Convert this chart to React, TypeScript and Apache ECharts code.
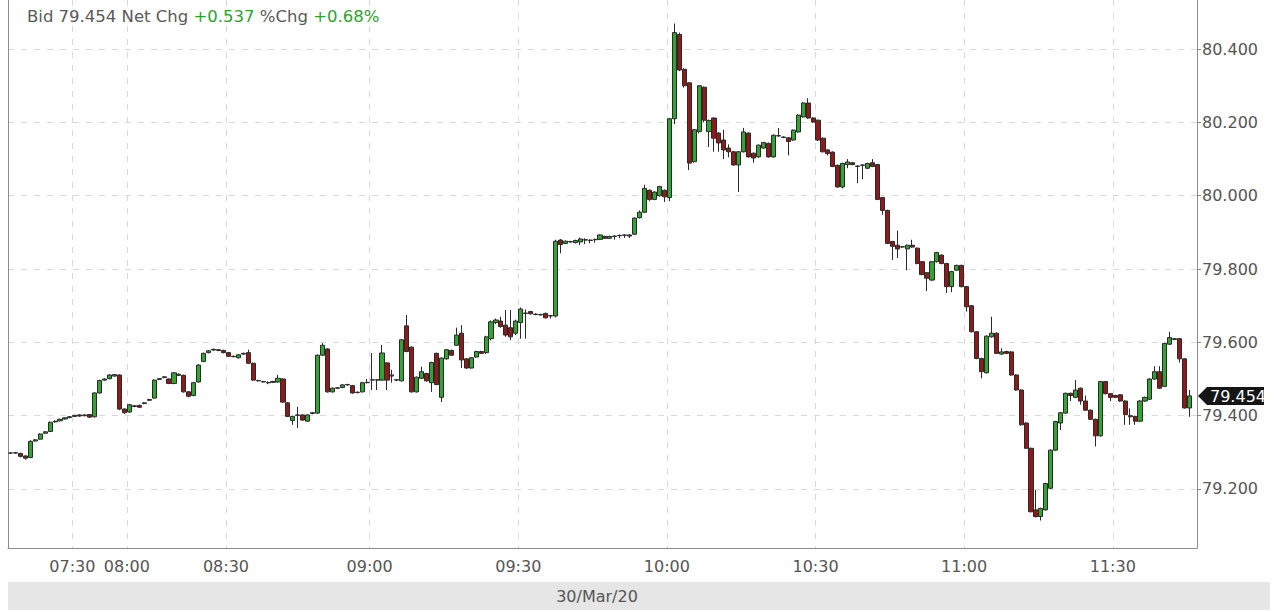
import React, { useEffect, useRef } from "react";
import * as echarts from "echarts";

// ---------- DATA ----------
// candle rows: [open, close, low, high]
const sessionEarly: number[][] = [
  [79.298, 79.298, 79.296, 79.300], [79.298, 79.299, 79.296, 79.301], [79.297, 79.289, 79.286, 79.299],
  [79.290, 79.284, 79.280, 79.292], [79.286, 79.330, 79.284, 79.333], [79.331, 79.334, 79.329, 79.336],
  [79.336, 79.350, 79.334, 79.352], [79.352, 79.356, 79.350, 79.358], [79.357, 79.382, 79.355, 79.384],
  [79.383, 79.385, 79.381, 79.387], [79.386, 79.390, 79.384, 79.392], [79.391, 79.394, 79.389, 79.396],
  [79.395, 79.397, 79.393, 79.399], [79.398, 79.401, 79.396, 79.402], [79.402, 79.399, 79.397, 79.404],
  [79.400, 79.402, 79.398, 79.404], [79.403, 79.396, 79.394, 79.404], [79.397, 79.462, 79.395, 79.464],
  [79.462, 79.496, 79.460, 79.498], [79.497, 79.500, 79.495, 79.502], [79.501, 79.511, 79.499, 79.513],
  [79.508, 79.512, 79.506, 79.514], [79.511, 79.418, 79.415, 79.513], [79.418, 79.408, 79.405, 79.420],
  [79.410, 79.430, 79.408, 79.432], [79.427, 79.425, 79.423, 79.429], [79.428, 79.423, 79.421, 79.430],
  [79.433, 79.435, 79.431, 79.437], [79.442, 79.444, 79.440, 79.446], [79.448, 79.497, 79.446, 79.499],
  [79.499, 79.501, 79.497, 79.503], [79.504, 79.506, 79.502, 79.508], [79.500, 79.488, 79.486, 79.502],
  [79.488, 79.517, 79.486, 79.519], [79.513, 79.510, 79.508, 79.515], [79.510, 79.465, 79.463, 79.512],
  [79.465, 79.453, 79.450, 79.467], [79.455, 79.490, 79.453, 79.492], [79.492, 79.538, 79.490, 79.540],
  [79.548, 79.570, 79.546, 79.572], [79.572, 79.577, 79.570, 79.579], [79.579, 79.581, 79.577, 79.583],
  [79.580, 79.578, 79.576, 79.582], [79.578, 79.572, 79.570, 79.580], [79.572, 79.562, 79.560, 79.574],
  [79.562, 79.561, 79.559, 79.564], [79.558, 79.566, 79.556, 79.568], [79.568, 79.570, 79.566, 79.572],
  [79.572, 79.543, 79.541, 79.580], [79.543, 79.497, 79.495, 79.545], [79.496, 79.495, 79.493, 79.498],
  [79.493, 79.492, 79.490, 79.495], [79.490, 79.490, 79.486, 79.494], [79.491, 79.493, 79.489, 79.495],
  [79.492, 79.502, 79.490, 79.511], [79.500, 79.437, 79.435, 79.502], [79.435, 79.398, 79.396, 79.437],
  [79.387, 79.398, 79.375, 79.400], [79.401, 79.402, 79.366, 79.424], [79.402, 79.388, 79.386, 79.404],
  [79.385, 79.402, 79.383, 79.404], [79.406, 79.408, 79.404, 79.410], [79.407, 79.565, 79.405, 79.567],
  [79.565, 79.592, 79.563, 79.598], [79.582, 79.465, 79.463, 79.584], [79.465, 79.475, 79.463, 79.477],
  [79.475, 79.476, 79.473, 79.478], [79.477, 79.484, 79.475, 79.486], [79.484, 79.485, 79.482, 79.487],
  [79.482, 79.462, 79.460, 79.484], [79.463, 79.464, 79.461, 79.466], [79.465, 79.490, 79.463, 79.492],
  [79.490, 79.491, 79.488, 79.500],
];

const session0900: number[][] = [
  [79.497, 79.498, 79.470, 79.571], [79.497, 79.498, 79.470, 79.500], [79.497, 79.571, 79.495, 79.593],
  [79.544, 79.497, 79.470, 79.546], [79.508, 79.511, 79.490, 79.525], [79.498, 79.497, 79.494, 79.500],
  [79.495, 79.607, 79.493, 79.609], [79.645, 79.575, 79.573, 79.675], [79.587, 79.465, 79.463, 79.589],
  [79.465, 79.505, 79.463, 79.507], [79.502, 79.520, 79.500, 79.534], [79.515, 79.495, 79.493, 79.517],
  [79.490, 79.545, 79.465, 79.547], [79.570, 79.485, 79.483, 79.572], [79.450, 79.557, 79.437, 79.559],
  [79.555, 79.580, 79.553, 79.582], [79.578, 79.565, 79.563, 79.580], [79.592, 79.620, 79.590, 79.640],
  [79.625, 79.552, 79.530, 79.647], [79.555, 79.530, 79.528, 79.557], [79.530, 79.558, 79.528, 79.560],
  [79.560, 79.575, 79.558, 79.577], [79.575, 79.570, 79.568, 79.577], [79.572, 79.615, 79.568, 79.618],
  [79.610, 79.656, 79.605, 79.660], [79.654, 79.661, 79.650, 79.665], [79.658, 79.643, 79.640, 79.670],
  [79.647, 79.620, 79.615, 79.688], [79.640, 79.615, 79.606, 79.688], [79.625, 79.658, 79.620, 79.662],
  [79.654, 79.691, 79.610, 79.695], [79.680, 79.679, 79.610, 79.690], [79.684, 79.678, 79.676, 79.686],
  [79.677, 79.676, 79.674, 79.679], [79.676, 79.675, 79.673, 79.678], [79.679, 79.667, 79.665, 79.681],
  [79.672, 79.673, 79.665, 79.675], [79.672, 79.876, 79.668, 79.880], [79.879, 79.867, 79.843, 79.882],
  [79.870, 79.876, 79.868, 79.878], [79.875, 79.874, 79.872, 79.877], [79.872, 79.878, 79.870, 79.880],
  [79.874, 79.882, 79.865, 79.886], [79.880, 79.879, 79.868, 79.884], [79.879, 79.878, 79.870, 79.881],
  [79.880, 79.881, 79.872, 79.883], [79.881, 79.893, 79.879, 79.895], [79.889, 79.884, 79.882, 79.891],
  [79.884, 79.889, 79.882, 79.891], [79.889, 79.890, 79.880, 79.892], [79.891, 79.892, 79.884, 79.894],
  [79.892, 79.893, 79.885, 79.895], [79.893, 79.890, 79.885, 79.895], [79.895, 79.939, 79.893, 79.941],
  [79.940, 79.955, 79.938, 79.960], [79.955, 80.020, 79.953, 80.030], [80.015, 79.990, 79.985, 80.017],
  [79.990, 80.010, 79.988, 80.012], [80.000, 80.025, 79.998, 80.027], [80.015, 79.997, 79.983, 80.017],
];

const session1000: number[][] = [
  [79.995, 80.210, 79.985, 80.212], [80.210, 80.445, 80.195, 80.470], [80.440, 80.343, 80.340, 80.445],
  [80.345, 80.300, 80.295, 80.348], [80.308, 80.089, 80.070, 80.310], [80.093, 80.180, 80.090, 80.182],
  [80.175, 80.300, 80.170, 80.302], [80.296, 80.206, 80.200, 80.298], [80.175, 80.205, 80.133, 80.208],
  [80.212, 80.157, 80.120, 80.214], [80.171, 80.144, 80.120, 80.173], [80.152, 80.125, 80.100, 80.180],
  [80.130, 80.120, 80.105, 80.140], [80.120, 80.084, 80.082, 80.122], [80.084, 80.120, 80.010, 80.122],
  [80.120, 80.174, 80.118, 80.185], [80.171, 80.106, 80.104, 80.173], [80.116, 80.103, 80.090, 80.118],
  [80.106, 80.138, 80.104, 80.140], [80.130, 80.145, 80.128, 80.147], [80.143, 80.106, 80.104, 80.145],
  [80.106, 80.165, 80.104, 80.167], [80.163, 80.164, 80.161, 80.185], [80.159, 80.160, 80.157, 80.162],
  [80.158, 80.148, 80.110, 80.160], [80.152, 80.179, 80.150, 80.181], [80.174, 80.220, 80.172, 80.222],
  [80.215, 80.253, 80.213, 80.255], [80.253, 80.212, 80.210, 80.266], [80.212, 80.201, 80.199, 80.214],
  [80.206, 80.152, 80.150, 80.208], [80.157, 80.120, 80.118, 80.159], [80.125, 80.115, 80.110, 80.127],
  [80.119, 80.080, 80.078, 80.121], [80.083, 80.024, 80.022, 80.085], [80.024, 80.088, 80.020, 80.090],
  [80.085, 80.092, 80.075, 80.100], [80.090, 80.085, 80.083, 80.092], [80.081, 80.080, 80.034, 80.083],
  [80.083, 80.084, 80.045, 80.086], [80.075, 80.088, 80.073, 80.090], [80.090, 80.080, 80.078, 80.100],
  [80.085, 79.990, 79.988, 80.087], [79.995, 79.960, 79.948, 79.997], [79.960, 79.870, 79.868, 79.962],
  [79.875, 79.862, 79.825, 79.877], [79.865, 79.855, 79.830, 79.905], [79.860, 79.861, 79.858, 79.863],
  [79.855, 79.865, 79.797, 79.867], [79.865, 79.860, 79.858, 79.880], [79.857, 79.815, 79.813, 79.859],
  [79.820, 79.785, 79.783, 79.822], [79.790, 79.775, 79.740, 79.792], [79.770, 79.820, 79.768, 79.822],
  [79.820, 79.845, 79.818, 79.847], [79.838, 79.815, 79.813, 79.840], [79.815, 79.752, 79.735, 79.817],
  [79.752, 79.793, 79.737, 79.795], [79.797, 79.810, 79.795, 79.812], [79.810, 79.752, 79.750, 79.812],
];

const session1100: number[][] = [
  [79.752, 79.697, 79.684, 79.754], [79.700, 79.629, 79.627, 79.702], [79.629, 79.556, 79.554, 79.631],
  [79.556, 79.520, 79.502, 79.558], [79.517, 79.617, 79.515, 79.619], [79.615, 79.625, 79.613, 79.670],
  [79.625, 79.570, 79.568, 79.627], [79.568, 79.574, 79.566, 79.584], [79.575, 79.570, 79.568, 79.577],
  [79.574, 79.511, 79.509, 79.576], [79.511, 79.470, 79.468, 79.513], [79.470, 79.375, 79.373, 79.472],
  [79.380, 79.311, 79.309, 79.382], [79.311, 79.138, 79.136, 79.313], [79.143, 79.125, 79.122, 79.197],
  [79.125, 79.147, 79.114, 79.149], [79.143, 79.215, 79.141, 79.217], [79.202, 79.306, 79.200, 79.308],
  [79.306, 79.384, 79.304, 79.386], [79.380, 79.408, 79.361, 79.410], [79.407, 79.461, 79.405, 79.463],
  [79.461, 79.455, 79.440, 79.463], [79.450, 79.470, 79.448, 79.497], [79.475, 79.440, 79.430, 79.477],
  [79.440, 79.415, 79.413, 79.455], [79.415, 79.390, 79.388, 79.417], [79.390, 79.345, 79.316, 79.392],
  [79.345, 79.493, 79.343, 79.495], [79.493, 79.460, 79.458, 79.495], [79.460, 79.450, 79.440, 79.462],
  [79.455, 79.450, 79.448, 79.457], [79.457, 79.440, 79.438, 79.459], [79.440, 79.403, 79.375, 79.442],
  [79.400, 79.397, 79.375, 79.420], [79.398, 79.385, 79.375, 79.400], [79.385, 79.440, 79.383, 79.442],
  [79.440, 79.450, 79.438, 79.452], [79.445, 79.500, 79.443, 79.502], [79.500, 79.520, 79.498, 79.535],
  [79.520, 79.475, 79.473, 79.535], [79.480, 79.597, 79.478, 79.599], [79.595, 79.613, 79.593, 79.629],
  [79.610, 79.608, 79.606, 79.612], [79.610, 79.555, 79.545, 79.612], [79.555, 79.421, 79.419, 79.557],
  [79.421, 79.454, 79.397, 79.470],
];

// minute stamps of the thin early-morning candles (before 09:00)
const earlyTimes: string[] = [
  "07:05", "07:07", "07:09", "07:11", "07:13", "07:15", "07:17", "07:19", "07:21", "07:23", "07:25", "07:27", "07:29",
  "07:30", "07:33", "07:36", "07:38", "07:41", "07:44", "07:47", "07:49", "07:52", "07:55", "07:58",
  "08:00", "08:01", "08:03", "08:04", "08:06", "08:07", "08:09", "08:10", "08:12", "08:13",
  "08:15", "08:16", "08:18", "08:19", "08:21", "08:22", "08:24", "08:25", "08:27", "08:28",
  "08:30", "08:31", "08:32", "08:33", "08:34", "08:35", "08:36", "08:37", "08:38", "08:39",
  "08:40", "08:41", "08:42", "08:43", "08:44", "08:46", "08:47", "08:48", "08:49", "08:50",
  "08:51", "08:52", "08:53", "08:54", "08:55", "08:56", "08:57", "08:58", "08:59",
];

const tickLabels: string[] = ["07:30", "08:00", "08:30", "09:00", "09:30", "10:00", "10:30", "11:00", "11:30"];
const yTicks: number[] = [79.2, 79.4, 79.6, 79.8, 80.0, 80.2, 80.4];
const dateLabel = "30/Mar/20";
const bidText = "79.454";
const netChg = "+0.537";
const pctChg = "+0.68%";

// ---------- helpers ----------
const pad2 = (n: number) => String(n).padStart(2, "0");
function minuteRun(h: number, m: number, count: number): string[] {
  const out: string[] = [];
  for (let k = 0; k < count; k++) {
    const t = h * 60 + m + k;
    out.push(`${pad2(Math.floor(t / 60))}:${pad2(t % 60)}`);
  }
  return out;
}

// candle boundaries (start minute of each slot, plus the closing boundary)
const boundaryTimes = [...earlyTimes, ...minuteRun(9, 0, 168)];
const candleTimes = boundaryTimes.slice(0, boundaryTimes.length - 1);
const ohlc = [...sessionEarly, ...session0900, ...session1000, ...session1100];

// layout
const W = 1280;
const H = 612;
const GRID_LEFT = 8;
const GRID_RIGHT_X = 1197;
const GRID_TOP = 0;
const GRID_BOTTOM_Y = 548;
const Y_MIN = 79.039;
const Y_MAX = 80.534;
const FONT = '"DejaVu Sans", Verdana, sans-serif';
const LABEL_COLOR = "#555";
const GRID_COLOR = "#d9d9d9";
const AXIS_COLOR = "#8c8c8c";

export default function App() {
  const ref = useRef<HTMLDivElement | null>(null);

  useEffect(() => {
    if (!ref.current) return;
    const chart = echarts.init(ref.current, undefined, { renderer: "svg" });
    const showTick = (_i: number, v: string) => tickLabels.includes(v);

    chart.setOption({
      animation: false,
      backgroundColor: "#ffffff",
      title: {
        left: 22,
        top: 3,
        text: `{a|Bid ${bidText} Net Chg }{g|${netChg}}{a| %Chg }{g|${pctChg}}`,
        textStyle: {
          fontWeight: "normal",
          rich: {
            a: { color: "#5a5a5a", fontSize: 16.5, fontFamily: FONT, fontWeight: "normal" },
            g: { color: "#2f9f2f", fontSize: 16.5, fontFamily: FONT, fontWeight: "normal" },
          },
        },
      },
      grid: {
        left: GRID_LEFT,
        right: W - GRID_RIGHT_X,
        top: GRID_TOP,
        bottom: H - GRID_BOTTOM_Y,
        containLabel: false,
      },
      xAxis: [
        {
          type: "category",
          data: candleTimes,
          boundaryGap: true,
          show: false,
        },
        {
          type: "category",
          data: boundaryTimes,
          boundaryGap: false,
          position: "bottom",
          axisLine: { show: true, lineStyle: { color: AXIS_COLOR } },
          axisTick: { show: false },
          axisLabel: {
            interval: showTick,
            color: LABEL_COLOR,
            fontSize: 16,
            fontFamily: FONT,
            margin: 10,
          },
          splitLine: {
            show: true,
            interval: showTick,
            lineStyle: { color: GRID_COLOR, type: [6, 7], width: 1 },
          },
        },
      ],
      yAxis: [
        {
          type: "value",
          position: "right",
          min: Y_MIN,
          max: Y_MAX,
          axisLine: { show: true, lineStyle: { color: AXIS_COLOR } },
          axisTick: { show: true, length: 4, customValues: yTicks, lineStyle: { color: AXIS_COLOR } },
          axisLabel: {
            customValues: yTicks,
            formatter: (v: number) => v.toFixed(3),
            color: LABEL_COLOR,
            fontSize: 16,
            fontFamily: FONT,
            margin: 5,
          },
          splitLine: { show: true, lineStyle: { color: GRID_COLOR, type: [6, 7], width: 1 } },
        },
        {
          type: "value",
          position: "left",
          min: Y_MIN,
          max: Y_MAX,
          axisLine: { show: true, lineStyle: { color: AXIS_COLOR } },
          axisTick: { show: false },
          axisLabel: { show: false },
          splitLine: { show: false },
        },
      ],
      series: [
        {
          type: "candlestick",
          xAxisIndex: 0,
          yAxisIndex: 0,
          data: ohlc,
          barWidth: 4.6,
          itemStyle: {
            color: "#33a333",
            color0: "#8e1b1b",
            borderColor: "#2a2a2a",
            borderColor0: "#2a2a2a",
            borderColorDoji: "#2a2a2a",
            borderWidth: 1,
          },
        },
      ],
    });

    const last = ohlc[ohlc.length - 1][1];
    const py = chart.convertToPixel({ yAxisIndex: 0 }, last) as number;
    const ax = GRID_RIGHT_X + 1;

    chart.setOption({
      graphic: [
        {
          type: "rect",
          shape: { x: GRID_LEFT, y: 582, width: 1270 - GRID_LEFT, height: 28 },
          style: { fill: "#e6e6e6" },
          silent: true,
        },
        {
          type: "text",
          x: 597,
          y: 596,
          style: {
            text: dateLabel,
            fill: LABEL_COLOR,
            font: `16px ${FONT}`,
            align: "center",
            verticalAlign: "middle",
          },
          silent: true,
        },
        {
          type: "polygon",
          shape: {
            points: [
              [ax, py],
              [ax + 9, py - 9],
              [ax + 66, py - 9],
              [ax + 66, py + 9],
              [ax + 9, py + 9],
            ],
          },
          style: { fill: "#151515" },
          silent: true,
          z: 10,
        },
        {
          type: "text",
          x: ax + 12,
          y: py + 1,
          style: {
            text: last.toFixed(3),
            fill: "#ffffff",
            font: `16px ${FONT}`,
            align: "left",
            verticalAlign: "middle",
          },
          silent: true,
          z: 11,
        },
      ],
    });

    return () => chart.dispose();
  }, []);

  return (
    <div
      ref={ref}
      style={{ position: "fixed", left: 0, top: 0, width: W, height: H, background: "#fff" }}
    />
  );
}
